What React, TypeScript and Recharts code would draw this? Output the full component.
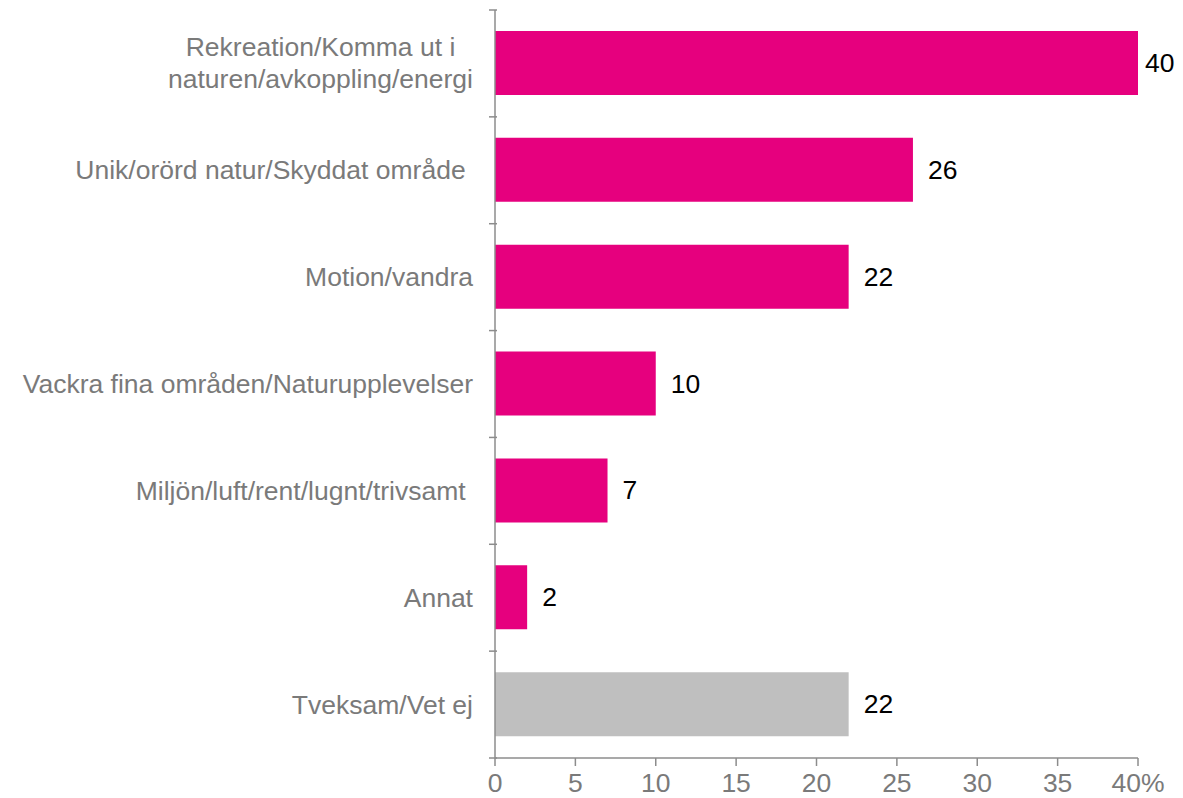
import React from 'react';
import { BarChart, Bar, XAxis, YAxis, Cell, LabelList } from 'recharts';

const categories = [
  'Rekreation/Komma ut i\nnaturen/avkoppling/energi',
  'Unik/orörd natur/Skyddat område ',
  'Motion/vandra',
  'Vackra fina områden/Naturupplevelser',
  'Miljön/luft/rent/lugnt/trivsamt ',
  'Annat',
  'Tveksam/Vet ej',
];
const values = [40, 26, 22, 10, 7, 2, 22];
const barColors = ['#E6007E', '#E6007E', '#E6007E', '#E6007E', '#E6007E', '#E6007E', '#BFBFBF'];
const xTicks = [0, 5, 10, 15, 20, 25, 30, 35, 40];

const data = categories.map((name, i) => ({ name, value: values[i] }));

const WIDTH = 1183;
const HEIGHT = 798;
const AXIS_COLOR = '#8C8C8C';
const LABEL_COLOR = '#7A7A7A';
const FONT = "'Liberation Sans', Arial, sans-serif";
const FONT_SIZE = 26.5;
const BAND = (758 - 10) / categories.length;

let measureCtx: CanvasRenderingContext2D | null = null;
const measure = (s: string) => {
  if (!measureCtx) measureCtx = document.createElement('canvas').getContext('2d');
  if (!measureCtx) return s.length * FONT_SIZE * 0.5;
  measureCtx.font = `${FONT_SIZE}px 'Liberation Sans', Arial, sans-serif`;
  return measureCtx.measureText(s).width;
};

const CategoryTick = (props: any) => {
  const { x, y, payload, index } = props;
  const lines: string[] = String(payload.value).split('\n');
  const lh = 32;
  const startY = y - ((lines.length - 1) * lh) / 2;
  const top = y - BAND / 2;
  const right = x - 14;
  const multi = lines.length > 1;
  const widest = multi ? Math.max(...lines.map(measure)) : 0;
  const tx = multi ? right - widest / 2 : right;
  return (
    <g>
      <line x1={x + 10} x2={x + 2} y1={top} y2={top} stroke={AXIS_COLOR} strokeWidth={1.5} />
      {index === categories.length - 1 && (
        <line x1={x + 10} x2={x + 2} y1={top + BAND} y2={top + BAND} stroke={AXIS_COLOR} strokeWidth={1.5} />
      )}
      <text
        x={tx}
        y={startY}
        textAnchor={multi ? 'middle' : 'end'}
        dominantBaseline="central"
        fill={LABEL_COLOR}
        fontSize={FONT_SIZE}
        fontFamily={FONT}
        style={{ whiteSpace: 'pre' }}
      >
        {lines.map((l, i) => (
          <tspan key={i} x={tx} dy={i === 0 ? 0 : lh}>
            {l}
          </tspan>
        ))}
      </text>
    </g>
  );
};

const ValueTick = (props: any) => {
  const { x, y, payload } = props;
  return (
    <text x={x} y={y + 24} textAnchor="middle" fill={LABEL_COLOR} fontSize={FONT_SIZE} fontFamily={FONT}>
      {payload.value === 40 ? '40%' : payload.value}
    </text>
  );
};

const BarValue = (props: any) => {
  const { x, y, width, height, value } = props;
  const txt = String(value);
  const w = measure(txt);
  let lx = x + width + 15;
  if (lx + w > WIDTH - 6) lx = x + width + 7;
  return (
    <text x={lx} y={y + height / 2} dominantBaseline="central" fill="#000" fontSize={FONT_SIZE} fontFamily={FONT}>
      {txt}
    </text>
  );
};

export default function App() {
  return (
    <div style={{ position: 'absolute', left: 0, top: 0, width: WIDTH, height: HEIGHT, background: '#fff' }}>
      <BarChart
        width={WIDTH}
        height={HEIGHT}
        data={data}
        layout="vertical"
        margin={{ top: 10, right: 45, bottom: 0, left: 0 }}
      >
        <XAxis
          type="number"
          domain={[0, 40]}
          ticks={xTicks}
          interval={0}
          height={40}
          axisLine={{ stroke: AXIS_COLOR, strokeWidth: 1.5 }}
          tickLine={{ stroke: AXIS_COLOR, strokeWidth: 1.5 }}
          tickSize={8}
          tick={<ValueTick />}
        />
        <YAxis
          type="category"
          dataKey="name"
          width={495}
          interval={0}
          axisLine={{ stroke: AXIS_COLOR, strokeWidth: 1.5 }}
          tickLine={false}
          tick={<CategoryTick />}
        />
        <Bar dataKey="value" barSize={64} isAnimationActive={false}>
          {data.map((_, i) => (
            <Cell key={`cell-${i}`} fill={barColors[i]} />
          ))}
          <LabelList dataKey="value" content={<BarValue />} />
        </Bar>
      </BarChart>
    </div>
  );
}
